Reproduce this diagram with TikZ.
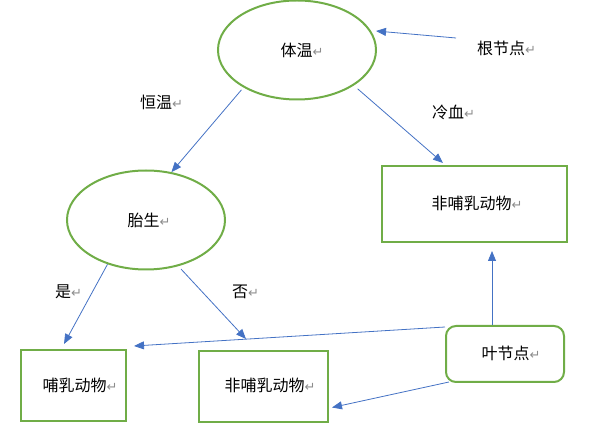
\documentclass[tikz,border=0pt]{standalone}
\usepackage{fontspec}
\setmainfont{Noto Sans CJK SC}
\newfontfamily\retfont{DejaVu Sans}
\usetikzlibrary{shapes.geometric,arrows.meta,calc}
\definecolor{gr}{HTML}{70AD47}
\definecolor{bl}{HTML}{4472C4}
\newcommand\retmark{{\retfont\fontsize{13}{13}\selectfont\textcolor{black!45}{↵}}}
\begin{document}
\begin{tikzpicture}[x=1pt,y=-1pt,
  every node/.style={font=\fontsize{16}{19}\selectfont, inner sep=0pt},
  ell/.style={ellipse, draw=gr, line width=2pt, minimum width=158pt, minimum height=99pt},
  box/.style={rectangle, draw=gr, line width=2pt},
  leafbox/.style={rectangle, rounded corners=10pt, draw=gr, line width=2pt},
  arr/.style={draw=bl, line width=0.8pt, -{Triangle[width=8pt,length=10pt]}},
  lbl/.style={anchor=west}]
\useasboundingbox (0,0) rectangle (597,443);
% nodes
\node[ell] (tiwen) at (297,50) {};
\node at (302,50) {体温\retmark};
\node[ell] (taisheng) at (146,220) {};
\node at (149,220) {胎生\retmark};
\node[box, minimum width=185pt, minimum height=76pt] (fm1) at (474.5,204) {};
\node at (477,203) {非哺乳动物\retmark};
\node[box, minimum width=105pt, minimum height=71pt] (bm) at (73.5,385.5) {};
\node at (80,385) {哺乳动物\retmark};
\node[box, minimum width=129pt, minimum height=71pt] (fm2) at (263.5,386.5) {};
\node at (270,385) {非哺乳动物\retmark};
\node[leafbox, minimum width=118pt, minimum height=56pt] (leaf) at (505,354) {};
\node at (511,353) {叶节点\retmark};
% labels
\node[lbl] (root) at (477,48) {根节点\retmark};
\node[lbl] (hw) at (140,102) {恒温\retmark};
\node[lbl] (lx) at (432,112) {冷血\retmark};
\node[lbl] (yes) at (55,292) {是\retmark};
\node[lbl] (no) at (232,292) {否\retmark};
% connectors
\draw[arr] ($(root.west)+(-21,-10)$) -- ($(tiwen.east)+(-1,-19)$);
\draw[arr, shorten <=3pt] (tiwen.215) -- (taisheng.62);
\draw[arr, shorten <=5pt] (tiwen.328) -- ($(fm1.north west)+(62,-2)$);
\draw[arr] (taisheng.229) -- ($(bm.north west)+(44,-5)$);
\draw[arr, shorten <=4pt] (taisheng.305) -- ($(fm2.north west)+(48,-11)$);
\draw[arr] ($(leaf.north west)+(47,0)$) -- ($(fm1.south west)+(111,8)$);
\draw[arr] ($(leaf.north west)+(0,2)$) -- ($(bm.north east)+(7,-3)$);
\draw[arr] ($(leaf.south west)+(4,-1)$) -- ($(fm2.east)+(3,21)$);
\end{tikzpicture}
\end{document}
